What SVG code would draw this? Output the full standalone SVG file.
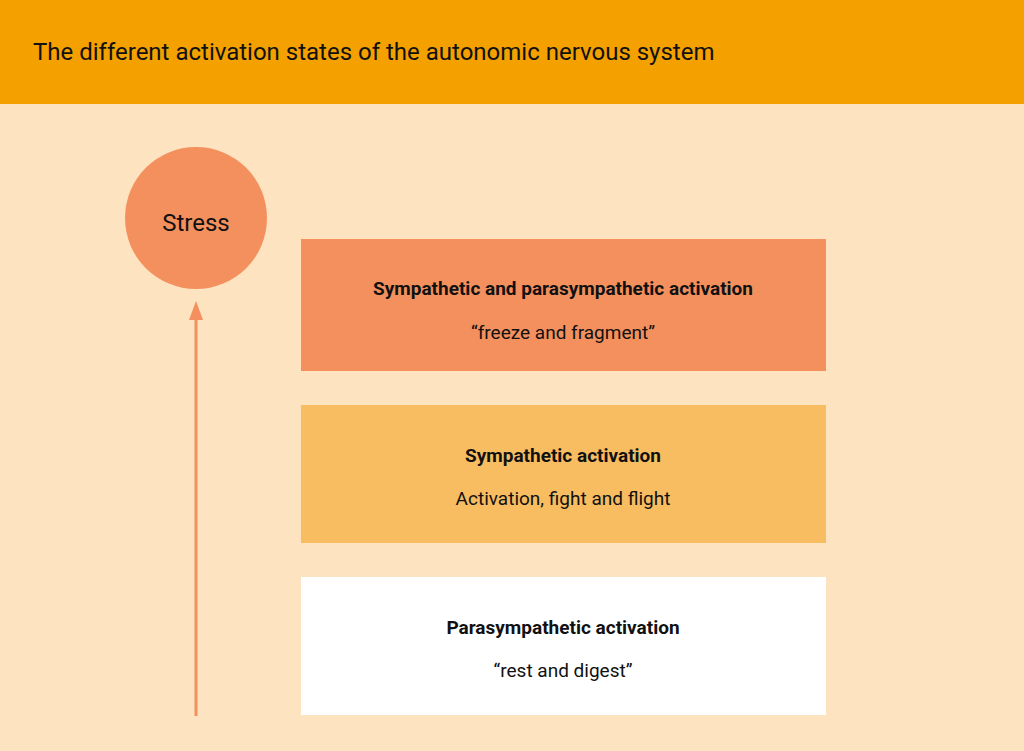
<svg xmlns="http://www.w3.org/2000/svg" width="1024" height="751" viewBox="0 0 1024 751">
<style>
text{font-family:Roboto,"Liberation Sans",sans-serif;fill:#111}
.b{font-weight:bold;font-size:19px}
.n{font-size:19px}
</style>
<defs><marker id="ah" markerWidth="10" markerHeight="12" refX="5" refY="0" orient="auto" markerUnits="userSpaceOnUse" viewBox="0 0 10 12"><path d="M0,0 L5,0 L10,0Z" fill="none"/></marker></defs>
<rect width="1024" height="751" fill="#FDE3C0"/>
<rect width="1024" height="104" fill="#F4A100"/>
<text x="33" y="60" font-size="24">The different activation states of the autonomic nervous system</text>
<g id="connectors">
<line x1="196" y1="716" x2="196" y2="318" stroke="#F4905E" stroke-width="3"/>
<path d="M189,320 L196,301 L203,320 Z" fill="#F4905E"/>
</g>
<g id="stress"><circle cx="196" cy="218" r="71" fill="#F4905E"/><text x="196" y="231" font-size="24" text-anchor="middle">Stress</text></g>
<g id="box1"><rect x="301" y="239" width="525" height="132" fill="#F4905E"/>
<text class="b" x="563" y="295" text-anchor="middle">Sympathetic and parasympathetic activation</text>
<text class="n" x="563" y="339" text-anchor="middle">“freeze and fragment”</text></g>
<g id="box2"><rect x="301" y="405" width="525" height="138" fill="#F8BD60"/>
<text class="b" x="563" y="462" text-anchor="middle">Sympathetic activation</text>
<text class="n" x="563" y="505" text-anchor="middle">Activation, fight and flight</text></g>
<g id="box3"><rect x="301" y="577" width="525" height="138" fill="#FFFFFF"/>
<text class="b" x="563" y="634" text-anchor="middle">Parasympathetic activation</text>
<text class="n" x="563" y="677" text-anchor="middle">“rest and digest”</text></g>
</svg>
